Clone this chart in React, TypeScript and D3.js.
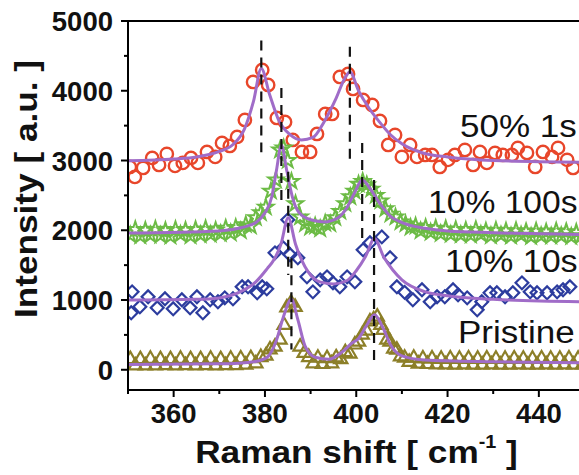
import React from 'react';
import * as d3 from 'd3';

const W = 579;
const H = 475;

// Axis ticks (Raman shift in cm^-1, intensity in a.u.)
const xMajorTicks = [360, 380, 400, 420, 440];
const xMinorTicks = [350, 370, 390, 410, 430, 450];
const yMajorTicks = [0, 1000, 2000, 3000, 4000, 5000];
const yMinorTicks = [500, 1500, 2500, 3500, 4500];

// Measured spectra: [shift, intensity]
const onePercent50: [number, number][] = [
  [350.4, 2908], [351.5, 2765], [353.3, 2894], [355.3, 3037], [356.8, 2937], [358.5, 3095],
  [360.3, 2923], [362.0, 2966], [363.8, 3037], [365.3, 2966], [367.3, 3123], [369.1, 3052],
  [370.6, 3252], [372.3, 3209], [373.9, 3338], [375.6, 3582], [377.4, 4126], [379.4, 4298],
  [380.7, 4083], [382.6, 3610], [384.4, 3553], [386.1, 3295], [388.1, 3123], [389.9, 3123],
  [391.4, 3381], [393.2, 3668], [394.7, 3668], [396.4, 4198], [398.2, 4241], [399.3, 4026],
  [401.5, 3868], [403.5, 3797], [405.2, 3567], [407.0, 3223], [408.5, 3367], [410.0, 3052],
  [411.8, 3223], [413.3, 3052], [415.1, 3080], [416.6, 3080], [418.3, 2908], [420.1, 3009],
  [421.6, 3080], [423.8, 3152], [425.6, 2937], [427.1, 3123], [428.6, 2966], [430.4, 3109],
  [432.1, 3080], [434.1, 3080], [435.4, 3181], [437.4, 3109], [439.2, 2908], [440.9, 3123],
  [442.9, 3052], [444.2, 3181], [446.2, 3009], [447.5, 2894],
];

const tenPercent100: [number, number][] = [
  [350.5, 1930], [351.6, 2010], [352.7, 1920], [353.8, 2000], [354.9, 1930], [356.0, 2015],
  [357.1, 1925], [358.2, 1995], [359.3, 1915], [360.4, 2010], [361.5, 1940], [362.6, 2000],
  [363.7, 1920], [364.8, 2010], [365.9, 1935], [367.0, 2020], [368.1, 1940], [369.2, 2000],
  [370.3, 1950], [371.4, 2030], [372.5, 1960], [373.6, 2040], [374.7, 1990], [375.8, 2080],
  [376.9, 2060], [378.0, 2180], [379.1, 2250], [380.2, 2330], [381.3, 2560], [382.4, 2720],
  [383.3, 3150], [384.1, 3180], [385.0, 3000], [385.8, 2700], [386.7, 2380], [387.7, 2190],
  [388.8, 2090], [389.9, 2040], [391.0, 2060], [392.1, 2020], [393.2, 2100], [394.3, 2090],
  [395.4, 2180], [396.5, 2270], [397.6, 2380], [398.7, 2480], [399.6, 2560], [400.5, 2660],
  [401.4, 2700], [402.3, 2650], [403.3, 2590], [404.3, 2500], [405.3, 2420], [406.4, 2310],
  [407.5, 2230], [408.6, 2190], [409.7, 2120], [410.8, 2090], [411.9, 2040], [413.0, 2060],
  [414.1, 1990], [415.2, 2040], [416.3, 1970], [417.4, 2030], [418.5, 1950], [419.6, 2020],
  [420.7, 1940], [421.8, 2010], [422.9, 1935], [424.0, 2000], [425.1, 1930], [426.2, 2010],
  [427.3, 1940], [428.4, 1990], [429.5, 1920], [430.6, 2000], [431.7, 1930], [432.8, 1990],
  [433.9, 1915], [435.0, 1995], [436.1, 1930], [437.2, 1980], [438.3, 1910], [439.4, 1990],
  [440.5, 1920], [441.6, 1975], [442.7, 1915], [443.8, 1990], [444.9, 1920], [446.0, 1980],
  [447.1, 1910], [448.2, 1970], [449.3, 1920],
];

const tenPercent10: [number, number][] = [
  [350.7, 817], [350.9, 1117], [352.6, 903], [354.4, 1046], [356.4, 888], [358.1, 1017],
  [359.9, 874], [361.8, 1003], [363.6, 888], [365.1, 1046], [366.4, 817], [368.0, 1003],
  [369.7, 974], [371.2, 1031], [373.0, 1017], [375.0, 1189], [376.3, 1189], [378.3, 1103],
  [379.4, 1189], [380.4, 1160], [382.2, 1676], [384.0, 1748], [385.0, 2149], [385.5, 1648],
  [387.2, 1605], [389.2, 1332], [390.5, 1117], [392.1, 1289], [393.6, 1332], [394.9, 1246],
  [396.4, 1189], [398.0, 1332], [399.7, 1261], [401.5, 1719], [403.0, 1820], [405.6, 1905],
  [407.4, 1605], [408.9, 1189], [410.6, 1110], [412.4, 1003], [414.4, 1146], [416.2, 974],
  [417.7, 1046], [419.4, 1046], [421.2, 1146], [422.3, 1074], [424.3, 1031], [426.5, 860],
  [427.5, 974], [429.3, 1103], [430.8, 1103], [432.6, 1046], [434.3, 1103], [436.3, 1246],
  [438.1, 1117], [439.6, 1103], [441.8, 1103], [444.0, 1117], [445.3, 1146], [446.8, 1189],
];

const pristine: [number, number][] = [
  [350.5, 150], [351.6, 60], [352.7, 150], [353.8, 60], [354.9, 155], [356.0, 60],
  [357.1, 150], [358.2, 65], [359.3, 150], [360.4, 60], [361.5, 155], [362.6, 65],
  [363.7, 150], [364.8, 60], [365.9, 150], [367.0, 65], [368.1, 155], [369.2, 60],
  [370.3, 150], [371.4, 65], [372.5, 155], [373.6, 65], [374.7, 160], [375.8, 70],
  [376.9, 165], [378.0, 90], [379.1, 180], [380.2, 200], [381.1, 290], [382.2, 330],
  [383.3, 430], [384.2, 640], [384.8, 890], [385.7, 960], [386.6, 900], [387.7, 330],
  [388.6, 240], [389.6, 180], [390.6, 90], [391.6, 170], [392.6, 80], [393.6, 165],
  [394.6, 90], [395.6, 175], [396.6, 150], [397.6, 250], [398.6, 230], [399.7, 360],
  [400.5, 400], [401.3, 500], [402.2, 560], [403.0, 690], [403.8, 720], [404.6, 760],
  [405.4, 640], [405.9, 570], [406.7, 430], [407.4, 400], [408.2, 300], [408.9, 285],
  [409.7, 190], [410.6, 170], [411.6, 110], [412.6, 170], [413.6, 85], [414.6, 160],
  [415.6, 80], [416.6, 160], [417.6, 75], [418.6, 155], [419.6, 75], [420.6, 160],
  [421.6, 70], [422.6, 155], [423.6, 75], [424.6, 160], [425.6, 70], [426.6, 155],
  [427.6, 70], [428.6, 160], [429.6, 75], [430.6, 155], [431.6, 70], [432.6, 155],
  [433.6, 70], [434.6, 160], [435.6, 75], [436.6, 155], [437.6, 70], [438.6, 155],
  [439.6, 70], [440.6, 160], [441.6, 75], [442.6, 155], [443.6, 70], [444.6, 155],
  [445.6, 75], [446.6, 160], [447.6, 70], [448.6, 155], [449.6, 75],
];

// Lorentzian fit curves sampled along the shift axis
const fit50: [number, number][] = [
  [350, 2995], [360, 3020], [365, 3050], [370, 3130], [373, 3230], [375.5, 3450],
  [377.5, 3850], [379.2, 4320], [381, 3950], [383, 3580], [385.5, 3370], [388, 3295],
  [390.5, 3330], [393, 3560], [395.5, 3880], [397.5, 4180], [398.6, 4270], [400.5, 4000],
  [402.7, 3760], [405, 3560], [407.5, 3370], [410, 3240], [415, 3100], [420, 3050],
  [430, 3000], [450, 2975],
];
const fit100: [number, number][] = [
  [350, 1960], [370, 1990], [375, 2040], [378, 2110], [380, 2250], [381.5, 2480],
  [382.5, 2850], [383.6, 3220], [384.8, 2850], [386, 2480], [387.5, 2250], [390, 2150],
  [393, 2120], [396, 2180], [398, 2330], [399.5, 2520], [401.3, 2720], [403, 2600],
  [405, 2400], [407.5, 2200], [410, 2110], [415, 2030], [420, 1990], [430, 1965], [450, 1940],
];
const fit10: [number, number][] = [
  [350, 1000], [365, 1010], [370, 1030], [375, 1130], [378, 1260], [380.5, 1450],
  [382, 1580], [383.5, 1800], [385.1, 2180], [386.7, 1800], [388, 1580], [389.5, 1400],
  [392, 1260], [395, 1230], [398, 1280], [400, 1420], [402, 1620], [404, 1880],
  [406, 1620], [408, 1430], [410, 1290], [415, 1120], [420, 1060], [430, 1010], [450, 975],
];
const fitPristine: [number, number][] = [
  [350, 75], [370, 85], [378, 120], [380.5, 180], [382.5, 420], [384, 750], [385.8, 1010],
  [387.2, 720], [388.8, 340], [391, 180], [394, 150], [397, 260], [399, 380], [400.5, 450],
  [402.3, 640], [404, 790], [405.8, 610], [407.5, 360], [410, 200], [415, 140], [430, 115],
  [450, 100],
];

// Peak-position guide lines: shift, upper and lower intensity
const peakShift = [379.2, 383.6, 385.1, 385.8, 398.6, 401.3, 403.9];
const peakTop = [4720, 4040, 2840, 1600, 4630, 3250, 2720];
const peakBottom = [3120, 2360, 1360, 290, 2980, 1860, 140];

const sampleLabels = ['50% 1s', '10% 100s', '10% 10s', 'Pristine'];
const labelAnchors: [number, number][] = [[460, 137], [428, 213], [445, 272], [458, 343]];
const labelStretch = [1.13, 1.085, 1.1, 1.13];

const FONT = '"Liberation Sans", Arial, Helvetica, sans-serif';
const FIT = '#a06cc8';
const RED = '#e8462a';
const GREEN = '#6cbb45';
const BLUE = '#2c3c9e';
const OLIVE = '#8c7f28';

export default function App() {
  const x = d3.scaleLinear().domain([350, 450]).range([128, 584.5]);
  const y = d3.scaleLinear().domain([-290, 5000]).range([390, 21]);
  const line = d3
    .line<[number, number]>()
    .x((d) => x(d[0]))
    .y((d) => y(d[1]))
    .curve(d3.curveMonotoneX);

  const star = d3.symbol().type(d3.symbolStar).size(72)() as string;
  const tri = d3.symbol().type(d3.symbolTriangle).size(76)() as string;
  const sq = d3.symbol().type(d3.symbolSquare).size(82)() as string;

  const x0 = x(350);
  const yTop = y(5000);
  const yBot = y(-290);

  return (
    <svg
      width={W}
      height={H}
      viewBox={`0 0 ${W} ${H}`}
      style={{ position: 'absolute', left: 0, top: 0, background: '#fff' }}
    >
      <defs>
        <clipPath id="plot">
          <rect x={x0} y={yTop} width={x(450) - x0} height={yBot - yTop} />
        </clipPath>
      </defs>

      <g clipPath="url(#plot)">
        {onePercent50.map((d, i) => (
          <circle key={'r' + i} cx={x(d[0])} cy={y(d[1])} r={6.2} fill="none" stroke={RED} strokeWidth={2.4} />
        ))}
        {tenPercent100.map((d, i) => (
          <path key={'g' + i} d={star} transform={`translate(${x(d[0])},${y(d[1])})`} fill="none" stroke={GREEN} strokeWidth={2} />
        ))}
        {tenPercent10.map((d, i) => (
          <path key={'b' + i} d={sq} transform={`translate(${x(d[0])},${y(d[1])}) rotate(45)`} fill="none" stroke={BLUE} strokeWidth={2.2} />
        ))}
        {pristine.map((d, i) => (
          <path key={'p' + i} d={tri} transform={`translate(${x(d[0])},${y(d[1])})`} fill="none" stroke={OLIVE} strokeWidth={2.2} />
        ))}

        {[fit50, fit100, fit10, fitPristine].map((f, i) => (
          <path key={'f' + i} d={line(f) as string} fill="none" stroke={FIT} strokeWidth={3} />
        ))}

        {peakShift.map((s, i) => (
          <line
            key={'pk' + i}
            x1={x(s)}
            x2={x(s)}
            y1={y(peakTop[i])}
            y2={y(peakBottom[i])}
            stroke="#111"
            strokeWidth={2.2}
            strokeDasharray="10,7"
          />
        ))}
      </g>

      {/* frame */}
      <line x1={x0} x2={x0} y1={yTop - 1} y2={yBot + 1} stroke="#000" strokeWidth={2} />
      <line x1={x0 - 1} x2={W} y1={yBot} y2={yBot} stroke="#000" strokeWidth={2} />
      <line x1={x0 - 1} x2={W} y1={yTop} y2={yTop} stroke="#000" strokeWidth={2} />

      {/* y ticks */}
      {yMajorTicks.map((t) => (
        <g key={'ym' + t}>
          <line x1={x0 - 7} x2={x0} y1={y(t)} y2={y(t)} stroke="#000" strokeWidth={2} />
          <text x={113} y={y(t) + 10} textAnchor="end" fontFamily={FONT} fontWeight="bold" fontSize={27.5} fill="#111">
            {t}
          </text>
        </g>
      ))}
      {yMinorTicks.map((t) => (
        <line key={'yn' + t} x1={x0 - 4} x2={x0} y1={y(t)} y2={y(t)} stroke="#000" strokeWidth={2} />
      ))}

      {/* x ticks */}
      {xMajorTicks.map((t) => (
        <g key={'xm' + t}>
          <line x1={x(t)} x2={x(t)} y1={yBot} y2={yBot + 7} stroke="#000" strokeWidth={2} />
          <text x={x(t)} y={423} textAnchor="middle" fontFamily={FONT} fontWeight="bold" fontSize={27.5} fill="#111">
            {t}
          </text>
        </g>
      ))}
      {xMinorTicks.map((t) => (
        <line key={'xn' + t} x1={x(t)} x2={x(t)} y1={yBot} y2={yBot + 4} stroke="#000" strokeWidth={2} />
      ))}

      {/* axis titles */}
      <text
        transform="translate(356.5,463) scale(1.1,1)"
        textAnchor="middle"
        fontFamily={FONT}
        fontWeight="bold"
        fontSize={32}
        fill="#111"
      >
        Raman shift [ cm
        <tspan fontSize={18} dy={-15}>-1</tspan>
        <tspan dy={15}> ]</tspan>
      </text>
      <text
        transform="translate(37,189) rotate(-90) scale(1.1,1)"
        textAnchor="middle"
        fontFamily={FONT}
        fontWeight="bold"
        fontSize={32}
        fill="#111"
      >
        Intensity [ a.u. ]
      </text>

      {/* sample labels */}
      {sampleLabels.map((s, i) => (
        <text
          key={s}
          transform={`translate(${labelAnchors[i][0]},${labelAnchors[i][1]}) scale(${labelStretch[i]},1)`}
          fontFamily={FONT}
          fontSize={31}
          fill="#111"
        >
          {s}
        </text>
      ))}
    </svg>
  );
}
